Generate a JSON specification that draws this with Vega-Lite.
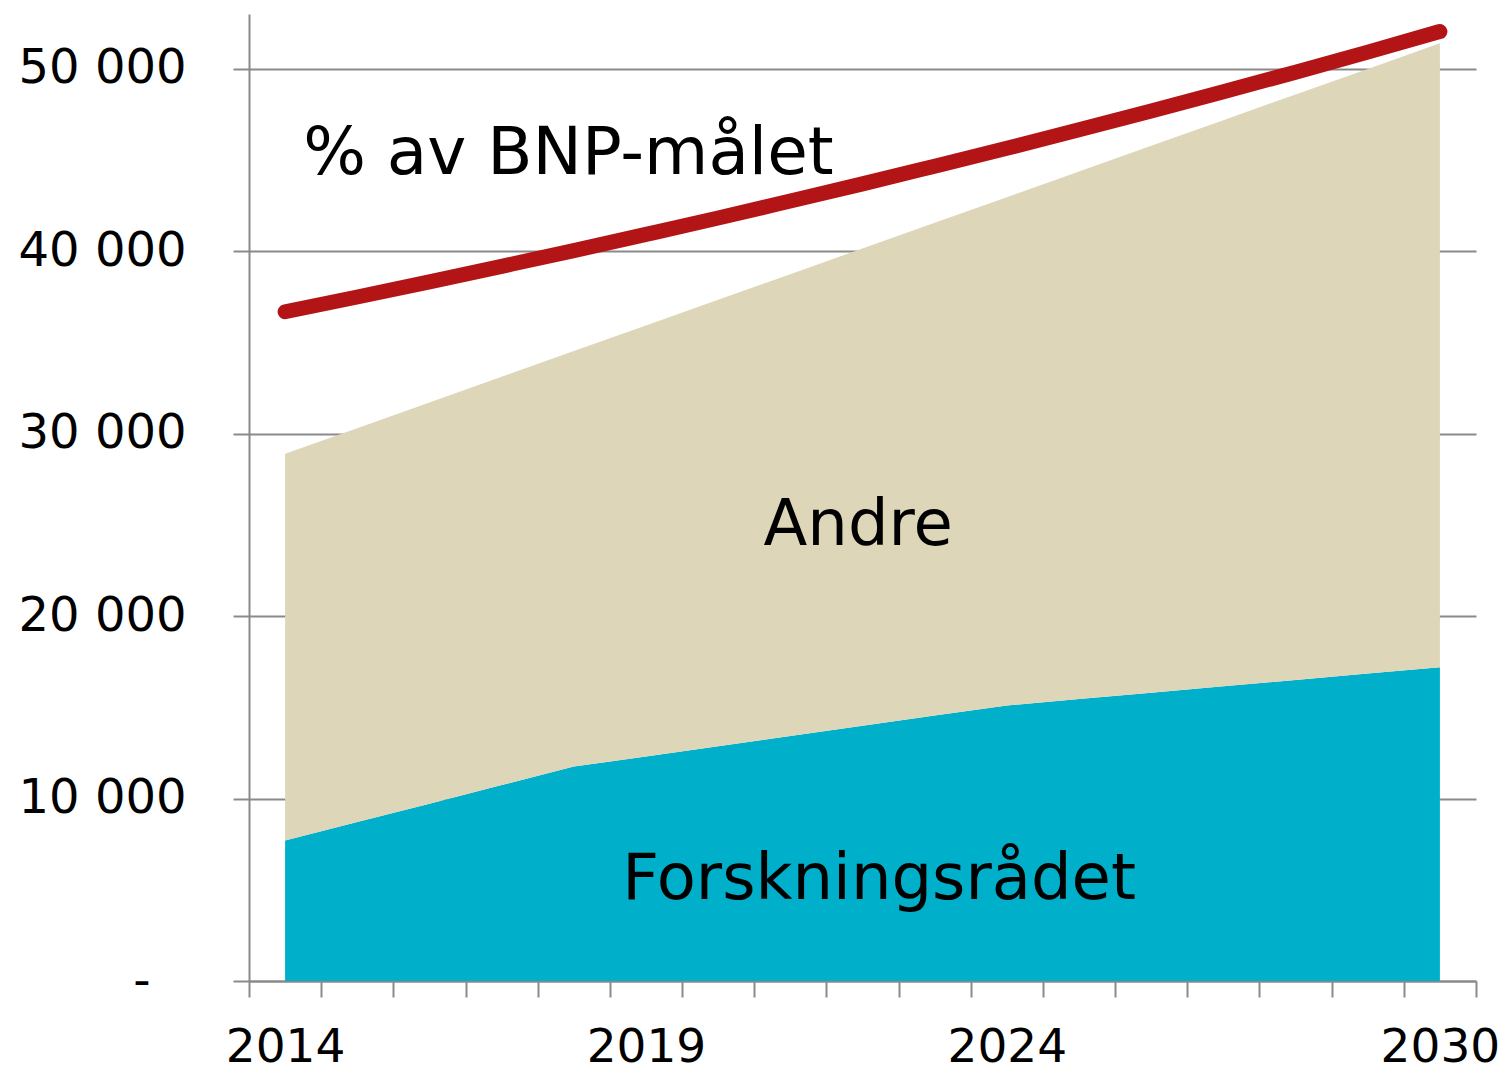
{
  "$schema": "https://vega.github.io/schema/vega-lite/v6.json",
  "width": 1227,
  "height": 967,
  "autosize": {"type": "none"},
  "padding": {"left": 249, "top": 14, "right": 25, "bottom": 85},
  "background": "white",
  "config": {
    "view": {"stroke": null},
    "font": "DejaVu Sans",
    "text": {"font": "DejaVu Sans"}
  },
  "datasets": {
    "areas": [
      {"year": 2014, "series": "Forskningsrådet", "k": 1, "value": 7700},
      {"year": 2015, "series": "Forskningsrådet", "k": 1, "value": 8710},
      {"year": 2016, "series": "Forskningsrådet", "k": 1, "value": 9720},
      {"year": 2017, "series": "Forskningsrådet", "k": 1, "value": 10740},
      {"year": 2018, "series": "Forskningsrådet", "k": 1, "value": 11750},
      {"year": 2019, "series": "Forskningsrådet", "k": 1, "value": 12310},
      {"year": 2020, "series": "Forskningsrådet", "k": 1, "value": 12870},
      {"year": 2021, "series": "Forskningsrådet", "k": 1, "value": 13430},
      {"year": 2022, "series": "Forskningsrådet", "k": 1, "value": 13990},
      {"year": 2023, "series": "Forskningsrådet", "k": 1, "value": 14550},
      {"year": 2024, "series": "Forskningsrådet", "k": 1, "value": 15100},
      {"year": 2025, "series": "Forskningsrådet", "k": 1, "value": 15450},
      {"year": 2026, "series": "Forskningsrådet", "k": 1, "value": 15800},
      {"year": 2027, "series": "Forskningsrådet", "k": 1, "value": 16150},
      {"year": 2028, "series": "Forskningsrådet", "k": 1, "value": 16500},
      {"year": 2029, "series": "Forskningsrådet", "k": 1, "value": 16850},
      {"year": 2030, "series": "Forskningsrådet", "k": 1, "value": 17200},
      {"year": 2014, "series": "Andre", "k": 2, "value": 21200},
      {"year": 2015, "series": "Andre", "k": 2, "value": 21590},
      {"year": 2016, "series": "Andre", "k": 2, "value": 21990},
      {"year": 2017, "series": "Andre", "k": 2, "value": 22380},
      {"year": 2018, "series": "Andre", "k": 2, "value": 22780},
      {"year": 2019, "series": "Andre", "k": 2, "value": 23620},
      {"year": 2020, "series": "Andre", "k": 2, "value": 24470},
      {"year": 2021, "series": "Andre", "k": 2, "value": 25310},
      {"year": 2022, "series": "Andre", "k": 2, "value": 26160},
      {"year": 2023, "series": "Andre", "k": 2, "value": 27010},
      {"year": 2024, "series": "Andre", "k": 2, "value": 27860},
      {"year": 2025, "series": "Andre", "k": 2, "value": 28920},
      {"year": 2026, "series": "Andre", "k": 2, "value": 29980},
      {"year": 2027, "series": "Andre", "k": 2, "value": 31030},
      {"year": 2028, "series": "Andre", "k": 2, "value": 32090},
      {"year": 2029, "series": "Andre", "k": 2, "value": 33140},
      {"year": 2030, "series": "Andre", "k": 2, "value": 34200}
    ],
    "target": [
      {"year": 2014, "value": 36680},
      {"year": 2015, "value": 37490},
      {"year": 2016, "value": 38320},
      {"year": 2017, "value": 39170},
      {"year": 2018, "value": 40030},
      {"year": 2019, "value": 40920},
      {"year": 2020, "value": 41820},
      {"year": 2021, "value": 42750},
      {"year": 2022, "value": 43690},
      {"year": 2023, "value": 44660},
      {"year": 2024, "value": 45640},
      {"year": 2025, "value": 46650},
      {"year": 2026, "value": 47680},
      {"year": 2027, "value": 48740},
      {"year": 2028, "value": 49810},
      {"year": 2029, "value": 50910},
      {"year": 2030, "value": 52040}
    ]
  },
  "layer": [
    {
      "data": {"name": "areas"},
      "mark": {"type": "area", "opacity": 1, "interpolate": "linear"},
      "encoding": {
        "x": {
          "field": "year",
          "type": "quantitative",
          "scale": {"domain": [2013.5, 2030.5], "nice": false, "zero": false},
          "axis": {
            "title": null,
            "values": [2013.5, 2014, 2014.5, 2015.5, 2016.5, 2017.5, 2018.5, 2019, 2019.5, 2020.5, 2021.5, 2022.5, 2023.5, 2024, 2024.5, 2025.5, 2026.5, 2027.5, 2028.5, 2029.5, 2030, 2030.5],
            "labelExpr": "indexof([2014, 2019, 2024, 2030], datum.value) >= 0 ? format(datum.value, 'd') : ''",
            "labelFlush": false,
            "labelOverlap": false,
            "labelBound": false,
            "labelFont": "DejaVu Sans",
            "labelFontSize": 47,
            "labelColor": "#000000",
            "labelPadding": 27,
            "tickSize": 16,
            "tickWidth": 2,
            "tickColor": "#8a8a8a",
            "tickOpacity": {"condition": {"test": "datum.value % 1 == 0", "value": 0}, "value": 1},
            "domainColor": "#8a8a8a",
            "domainWidth": 2,
            "grid": false
          }
        },
        "y": {
          "field": "value",
          "type": "quantitative",
          "stack": "zero",
          "scale": {"domain": [0, 53000], "nice": false},
          "axis": {
            "title": null,
            "values": [0, 10000, 20000, 30000, 40000, 50000],
            "labelExpr": "datum.value == 0 ? '-' : replace(format(datum.value, ','), ',', ' ')",
            "labelFont": "DejaVu Sans",
            "labelFontSize": 48,
            "labelColor": "#000000",
            "labelPadding": {"condition": {"test": "datum.value == 0", "value": 83}, "value": 47},
            "tickSize": 16,
            "tickWidth": 2,
            "tickColor": "#8a8a8a",
            "domainColor": "#8a8a8a",
            "domainWidth": 2,
            "grid": true,
            "gridColor": "#8a8a8a",
            "gridWidth": 2
          }
        },
        "color": {
          "field": "series",
          "type": "nominal",
          "scale": {"domain": ["Forskningsrådet", "Andre"], "range": ["#00B0CA", "#DDD6B8"]},
          "legend": null
        },
        "order": {"field": "k", "type": "quantitative", "sort": "ascending"}
      }
    },
    {
      "data": {"name": "target"},
      "mark": {"type": "line", "color": "#B31516", "strokeWidth": 15, "strokeCap": "round", "strokeJoin": "round", "interpolate": "monotone"},
      "encoding": {
        "x": {"field": "year", "type": "quantitative"},
        "y": {"field": "value", "type": "quantitative"}
      }
    },
    {
      "data": {"values": [{}]},
      "mark": {"type": "text", "text": "% av BNP-målet", "font": "DejaVu Sans", "fontSize": 66, "align": "left", "baseline": "alphabetic", "color": "#000000"},
      "encoding": {
        "x": {"datum": 2014.25, "type": "quantitative"},
        "y": {"datum": 44250, "type": "quantitative"}
      }
    },
    {
      "data": {"values": [{}]},
      "mark": {"type": "text", "text": "Andre", "font": "DejaVu Sans", "fontSize": 64, "align": "center", "baseline": "alphabetic", "color": "#000000"},
      "encoding": {
        "x": {"datum": 2021.94, "type": "quantitative"},
        "y": {"datum": 23900, "type": "quantitative"}
      }
    },
    {
      "data": {"values": [{}]},
      "mark": {"type": "text", "text": "Forskningsrådet", "font": "DejaVu Sans", "fontSize": 64, "align": "center", "baseline": "alphabetic", "color": "#000000"},
      "encoding": {
        "x": {"datum": 2022.23, "type": "quantitative"},
        "y": {"datum": 4500, "type": "quantitative"}
      }
    }
  ]
}
